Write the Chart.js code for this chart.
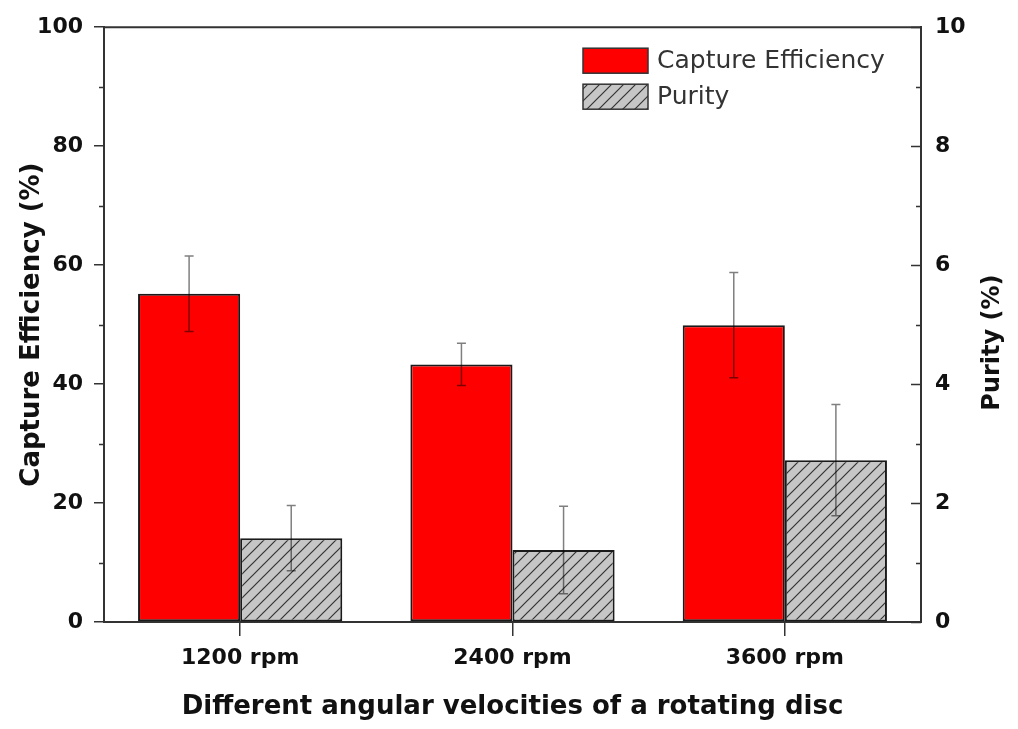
<!DOCTYPE html>
<html>
<head>
<meta charset="utf-8">
<script src="https://cdn.jsdelivr.net/npm/chart.js@4.4.0/dist/chart.umd.min.js"></script>
<style>
    html, body { margin: 0; padding: 0; background: #fff; }
    #wrap { width: 1018px; height: 729px; }
</style>
</head>
<body>
<div id="wrap"><canvas id="chart" width="1018" height="729"></canvas></div>
<script>

// =====================================
// DATA
// =====================================

const categories = ['1200 rpm', '2400 rpm', '3600 rpm'];

const captureEfficiency = [55.2, 43.3, 49.9];
const captureError = [6.35, 3.55, 8.85];

const purity = [1.41, 1.21, 2.72];
const purityError = [0.55, 0.735, 0.935];

const leftTicks = [0, 20, 40, 60, 80, 100];
const rightTicks = [0, 2, 4, 6, 8, 10];


// =====================================
// STYLE
// =====================================

const FONT = "'DejaVu Sans', sans-serif";
const AXIS_COLOR = '#333';
const TEXT_COLOR = '#111';


// =====================================
// HATCH PATTERN (PURITY)
// =====================================

function makeHatch() {
    const size = 12;
    const c = document.createElement('canvas');
    c.width = size;
    c.height = size;
    const g = c.getContext('2d');

    g.fillStyle = '#c6c6c6';
    g.fillRect(0, 0, size, size);

    g.strokeStyle = '#333';
    g.lineWidth = 1.2;
    g.beginPath();
    g.moveTo(0, size); g.lineTo(size, 0);
    g.moveTo(-size / 2, size / 2); g.lineTo(size / 2, -size / 2);
    g.moveTo(size / 2, size * 1.5); g.lineTo(size * 1.5, size / 2);
    g.stroke();

    return g.createPattern(c, 'repeat');
}

const hatch = makeHatch();


// =====================================
// ERROR BARS
// =====================================

const errorBarPlugin = {
    id: 'errorBars',
    afterDatasetsDraw(chart) {
        const ctx = chart.ctx;
        ctx.save();
        ctx.strokeStyle = 'rgba(0,0,0,0.5)';
        ctx.lineWidth = 1.5;

        chart.data.datasets.forEach((ds, di) => {
            const meta = chart.getDatasetMeta(di);
            const scale = chart.scales[meta.yAxisID];

            meta.data.forEach((bar, i) => {
                const v = ds.data[i];
                const e = ds.errors[i];
                const yTop = scale.getPixelForValue(v + e);
                const yBot = scale.getPixelForValue(v - e);
                const x = bar.x;
                const cap = 4.5;

                ctx.beginPath();
                ctx.moveTo(x, yTop); ctx.lineTo(x, yBot);
                ctx.moveTo(x - cap, yTop); ctx.lineTo(x + cap, yTop);
                ctx.moveTo(x - cap, yBot); ctx.lineTo(x + cap, yBot);
                ctx.stroke();
            });
        });

        ctx.restore();
    }
};


// =====================================
// FRAME, MINOR TICKS, RIGHT TITLE, LEGEND
// =====================================

const framePlugin = {
    id: 'frame',
    afterDraw(chart) {
        const ctx = chart.ctx;
        const area = chart.chartArea;
        const yL = chart.scales.y;
        const yR = chart.scales.y2;

        ctx.save();
        ctx.strokeStyle = AXIS_COLOR;
        ctx.lineWidth = 2;

        // top line
        ctx.beginPath();
        ctx.moveTo(area.left - 1, area.top);
        ctx.lineTo(area.right + 1, area.top);
        ctx.stroke();

        ctx.lineWidth = 1.5;

        // left minor ticks (outward)
        ctx.beginPath();
        for (let v = 10; v < 100; v += 20) {
            const y = Math.round(yL.getPixelForValue(v)) + 0.5;
            ctx.moveTo(area.left - 5, y);
            ctx.lineTo(area.left, y);
        }
        ctx.stroke();

        // right ticks (inward)
        ctx.beginPath();
        for (let v = 0; v <= 10; v += 1) {
            const y = Math.round(yR.getPixelForValue(v)) + 0.5;
            const len = v % 2 === 0 ? 10 : 5;
            ctx.moveTo(area.right - len, y);
            ctx.lineTo(area.right, y);
        }
        ctx.stroke();

        // right axis title
        ctx.fillStyle = TEXT_COLOR;
        ctx.font = 'bold 24px ' + FONT;
        ctx.textAlign = 'center';
        ctx.textBaseline = 'middle';
        ctx.translate(area.right + 72, (area.top + area.bottom) / 2 + 18);
        ctx.rotate(-Math.PI / 2);
        ctx.fillText('Purity (%)', 0, 0);
        ctx.restore();

        // legend
        ctx.save();
        const boxX = area.right - 338;
        const rows = [area.top + 21, area.top + 57];
        chart.data.datasets.forEach((ds, i) => {
            const y = rows[i];
            ctx.fillStyle = ds.backgroundColor;
            ctx.fillRect(boxX, y, 65, 25);
            ctx.strokeStyle = '#333';
            ctx.lineWidth = 1.5;
            ctx.strokeRect(boxX, y, 65, 25);

            ctx.fillStyle = '#333';
            ctx.font = '25px ' + FONT;
            ctx.textAlign = 'left';
            ctx.textBaseline = 'middle';
            ctx.fillText(ds.label, boxX + 74, y + 13);
        });
        ctx.restore();
    }
};


// =====================================
// CHART
// =====================================

new Chart(document.getElementById('chart'), {

    type: 'bar',

    data: {
        labels: categories,
        datasets: [
            {
                label: 'Capture Efficiency',
                data: captureEfficiency,
                errors: captureError,
                yAxisID: 'y',
                backgroundColor: '#ff0000',
                borderColor: '#1a1a1a',
                borderWidth: 2,
                borderSkipped: false,
                categoryPercentage: 0.75,
                barPercentage: 1.0
            },
            {
                label: 'Purity',
                data: purity,
                errors: purityError,
                yAxisID: 'y2',
                backgroundColor: hatch,
                borderColor: '#1a1a1a',
                borderWidth: 2,
                borderSkipped: false,
                categoryPercentage: 0.75,
                barPercentage: 1.0
            }
        ]
    },

    options: {
        responsive: false,
        animation: false,
        devicePixelRatio: 1,

        layout: {
            padding: { top: 25, left: 0, right: 0, bottom: 0 }
        },

        plugins: {
            legend: { display: false },
            tooltip: { enabled: false }
        },

        scales: {

            x: {
                position: 'bottom',
                afterFit(scale) { scale.height = 107; },
                grid: {
                    offset: false,
                    drawOnChartArea: false,
                    drawTicks: true,
                    tickLength: 14,
                    color: AXIS_COLOR,
                    lineWidth: 1.5
                },
                border: { color: AXIS_COLOR, width: 2 },
                ticks: {
                    color: TEXT_COLOR,
                    padding: 9,
                    font: { family: FONT, size: 22, weight: 'bold' }
                },
                title: {
                    display: true,
                    text: 'Different angular velocities of a rotating disc',
                    color: TEXT_COLOR,
                    font: { family: FONT, size: 26, weight: 'bold' },
                    padding: { top: 0, bottom: 6 }
                }
            },

            y: {
                position: 'left',
                min: 0,
                max: 100,
                afterFit(scale) { scale.width = 104; },
                afterBuildTicks(scale) {
                    scale.ticks = leftTicks.map(v => ({ value: v }));
                },
                grid: {
                    drawOnChartArea: false,
                    tickLength: 10,
                    color: AXIS_COLOR,
                    lineWidth: 1.5
                },
                border: { color: AXIS_COLOR, width: 2 },
                ticks: {
                    color: TEXT_COLOR,
                    padding: 11,
                    font: { family: FONT, size: 22, weight: 'bold' }
                },
                title: {
                    display: true,
                    text: 'Capture Efficiency (%)',
                    color: TEXT_COLOR,
                    font: { family: FONT, size: 26, weight: 'bold' },
                    padding: { top: 17, bottom: 0 }
                }
            },

            y2: {
                position: 'right',
                min: 0,
                max: 10,
                afterFit(scale) { scale.width = 97; },
                afterBuildTicks(scale) {
                    scale.ticks = rightTicks.map(v => ({ value: v }));
                },
                grid: {
                    drawOnChartArea: false,
                    drawTicks: false
                },
                border: { color: AXIS_COLOR, width: 2 },
                ticks: {
                    color: TEXT_COLOR,
                    padding: 14,
                    font: { family: FONT, size: 22, weight: 'bold' }
                }
            }
        }
    },

    plugins: [errorBarPlugin, framePlugin]
});

</script>
</body>
</html>
